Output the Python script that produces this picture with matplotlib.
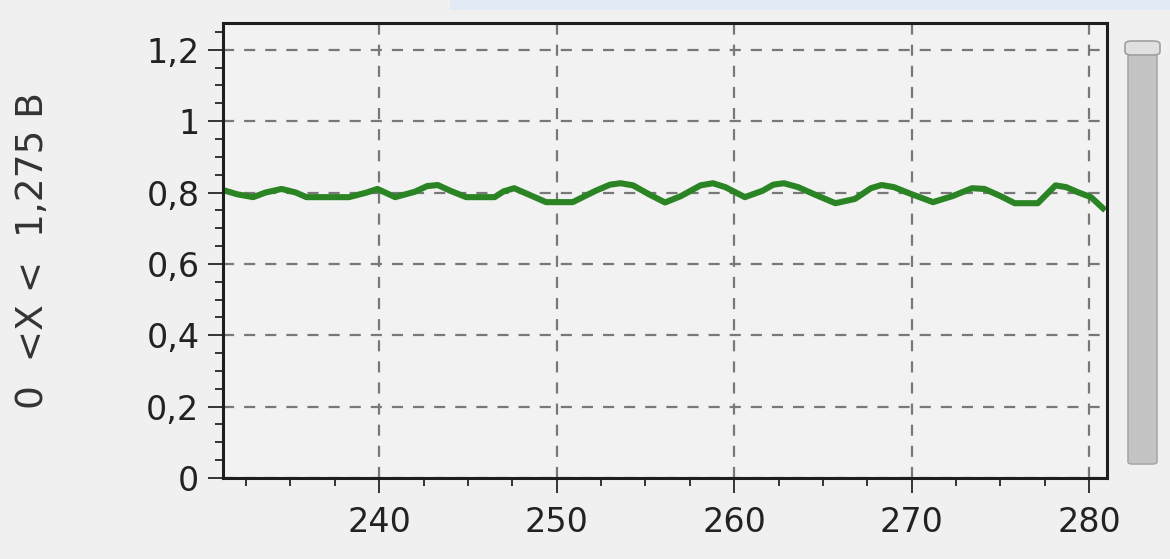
import matplotlib.pyplot as plt
import matplotlib.patches as mpatches
from matplotlib.ticker import FixedLocator, FixedFormatter, MultipleLocator

# data
t = [231.2, 232.0, 232.9, 233.6, 234.5, 235.3, 235.9, 238.3, 239.3, 239.9,
     240.9, 242.0, 242.7, 243.3, 244.0, 244.9, 246.5, 247.0, 247.6, 248.3,
     249.4, 250.9, 252.2, 253.0, 253.6, 254.3, 255.2, 256.1, 257.0, 258.1,
     258.8, 259.5, 260.6, 261.6, 262.2, 262.8, 263.6, 264.6, 265.7, 266.8,
     267.7, 268.3, 269.0, 269.9, 271.2, 272.3, 273.4, 274.1, 275.0, 275.8,
     277.1, 277.6, 278.1, 278.7, 279.4, 280.1, 280.9]
level = [0.807, 0.795, 0.787, 0.800, 0.810, 0.800, 0.787, 0.787, 0.800, 0.810,
         0.787, 0.802, 0.818, 0.821, 0.805, 0.787, 0.787, 0.803, 0.812, 0.797,
         0.773, 0.773, 0.805, 0.822, 0.826, 0.820, 0.795, 0.772, 0.790, 0.820,
         0.826, 0.815, 0.787, 0.805, 0.822, 0.826, 0.815, 0.793, 0.770, 0.782,
         0.812, 0.821, 0.815, 0.797, 0.773, 0.790, 0.812, 0.810, 0.790, 0.770,
         0.770, 0.795, 0.820, 0.815, 0.800, 0.787, 0.750]

xticks = [240, 250, 260, 270, 280]
yticks = [0, 0.2, 0.4, 0.6, 0.8, 1.0, 1.2]
ylabels = ["0", "0,2", "0,4", "0,6", "0,8", "1", "1,2"]
ytitle = "0  <X <  1,275 B"

W, H = 1170, 559
fig = plt.figure(figsize=(W / 100, H / 100), dpi=100, facecolor="#f0f0f0")

# light band at the top of the window
fig.add_artist(mpatches.Rectangle((450 / W, 1 - 10 / H), 1, 10 / H,
                                  transform=fig.transFigure, color="#e2ebf5", lw=0))

ax = fig.add_axes([223 / W, 81 / H, 884 / W, 455 / H])
ax.set_facecolor("#f2f2f2")

ax.plot(t, level, color="#2b8424", lw=4.4, solid_joinstyle="round",
        solid_capstyle="butt")

ax.set_xlim(231.2, 281.0)
ax.set_ylim(0, 1.275)

ax.xaxis.set_major_locator(FixedLocator(xticks))
ax.xaxis.set_minor_locator(MultipleLocator(2.5))
ax.yaxis.set_major_locator(FixedLocator(yticks))
ax.yaxis.set_major_formatter(FixedFormatter(ylabels))
ax.yaxis.set_minor_locator(MultipleLocator(0.05))

ax.tick_params(which="major", length=11, width=1.4, color="#333333",
               labelsize=24, labelcolor="#222222", pad=6)
ax.tick_params(which="minor", length=6, width=1.4, color="#333333")
ax.tick_params(axis="x", which="major", pad=9)

for s in ax.spines.values():
    s.set_linewidth(2.2)
    s.set_color("#1e1e1e")

ax.grid(True, which="major", color="#787878", linestyle=(0, (5, 4.5)), lw=1.6)

ax.set_ylabel(ytitle, fontsize=27, color="#333333")
ax.yaxis.set_label_coords(-172 / 884, 0.5)

# scrollbar on the right
fig.add_artist(mpatches.FancyBboxPatch((1128 / W, 95 / H), 29 / W, 410 / H,
                                       boxstyle="round,pad=0,rounding_size=0.004",
                                       transform=fig.transFigure,
                                       facecolor="#c4c4c4", edgecolor="#a8a8a8", lw=1.2))
fig.add_artist(mpatches.FancyBboxPatch((1125 / W, 504 / H), 35 / W, 14 / H,
                                       boxstyle="round,pad=0,rounding_size=0.006",
                                       transform=fig.transFigure,
                                       facecolor="#e0e0e0", edgecolor="#a0a0a0", lw=1.2))

fig.savefig("out.png", dpi=100, facecolor=fig.get_facecolor())
